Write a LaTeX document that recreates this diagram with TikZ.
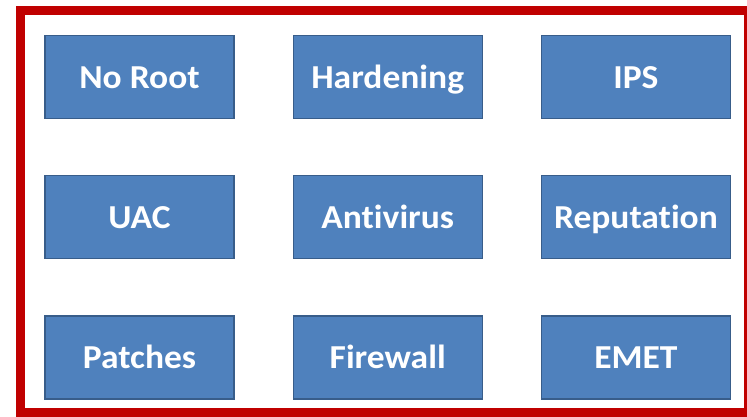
\documentclass[tikz,border=0pt]{standalone}
\usepackage{fontspec}
\setmainfont{Carlito}[Ligatures=NoCommon, FakeStretch=1.06]
\usetikzlibrary{positioning}

\definecolor{boxfill}{HTML}{4F81BD}
\definecolor{boxline}{HTML}{385D8A}
\definecolor{framered}{HTML}{C00000}

\begin{document}
\begin{tikzpicture}[
    x=1pt, y=-1pt,
    ctrl/.style={rectangle, draw=boxline, fill=boxfill, line width=1.2pt,
        minimum width=189pt, minimum height=83pt, inner sep=0pt,
        text height=24pt, text depth=2pt,
        text=white, font=\fontsize{33.5}{36}\selectfont\bfseries},
    frame/.style={draw=framered, line width=9pt}
]
    \useasboundingbox (0,0) rectangle (747,416);
    \begin{scope}
        \clip (0,0) rectangle (747,416);
        \draw[frame] (20,10) rectangle (748,412);
    \end{scope}

    % first row
    \node[ctrl] (noroot) at (139.5,77) {No Root};
    \node[ctrl, right=58pt of noroot] (hardening) {Hardening};
    \node[ctrl, right=58pt of hardening] (ips) {IPS};

    % second row
    \node[ctrl, below=56pt of noroot] (uac) {UAC};
    \node[ctrl, right=58pt of uac] (antivirus) {Antivirus};
    \node[ctrl, right=58pt of antivirus] (reputation) {Reputation};

    % third row
    \node[ctrl, below=56pt of uac] (patches) {Patches};
    \node[ctrl, right=58pt of patches] (firewall) {Firewall};
    \node[ctrl, right=58pt of firewall] (emet) {EMET};
\end{tikzpicture}
\end{document}
